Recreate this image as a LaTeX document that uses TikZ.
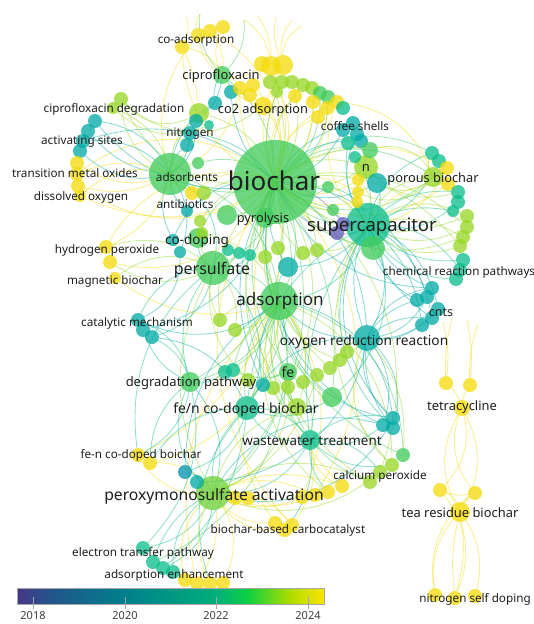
\documentclass[tikz,border=0pt]{standalone}
\usepackage{fontspec}
\setmainfont{Noto Sans}
\pgfdeclarelayer{paper}
\pgfdeclarelayer{links}
\pgfsetlayers{paper,links,main}
\definecolor{c18}{RGB}{100,90,185}
\definecolor{c19}{RGB}{0,145,175}
\definecolor{c20}{RGB}{0,170,165}
\definecolor{c21}{RGB}{10,190,140}
\definecolor{c22}{RGB}{65,203,90}
\definecolor{c23}{RGB}{150,215,35}
\definecolor{c24}{RGB}{245,220,10}
\definecolor{cb0}{RGB}{70,55,135}
\definecolor{cb1}{RGB}{35,85,140}
\definecolor{cb2}{RGB}{0,128,140}
\definecolor{cb3}{RGB}{0,175,122}
\definecolor{cb4}{RGB}{15,208,65}
\definecolor{cb5}{RGB}{175,220,0}
\definecolor{cb6}{RGB}{250,228,0}
\newcommand{\kwsize}[1]{\fontsize{#1}{#1}\selectfont}
\tikzset{
  kw/.style={circle,inner sep=0pt,outer sep=0pt,draw=none,fill opacity=0.76},
  k18/.style={kw,fill=c18,minimum size=#1}, k18/.default=14,
  k19/.style={kw,fill=c19,minimum size=#1}, k19/.default=14,
  k20/.style={kw,fill=c20,minimum size=#1}, k20/.default=14,
  k21/.style={kw,fill=c21,minimum size=#1}, k21/.default=14,
  k22/.style={kw,fill=c22,minimum size=#1}, k22/.default=14,
  k23/.style={kw,fill=c23,minimum size=#1}, k23/.default=14,
  k24/.style={kw,fill=c24,minimum size=#1}, k24/.default=14,
  lbl/.style={inner sep=0pt,text=black!88,font=\kwsize{11.7}},
  link/.style={draw=#1,line width=0.85pt,draw opacity=0.45},
}
\begin{document}
\begin{tikzpicture}[x=1pt,y=1pt,yscale=-1,xscale=1]
\begin{pgfonlayer}{paper}
\fill[white] (0,0) rectangle (534,624);
\end{pgfonlayer}
\useasboundingbox (0,0) rectangle (534,624);

% Main keywords
\node[k22=84] (biochar) at (275,182) {};
\node[k21=44] (supercap) at (368,225) {};
\node[k22=38] (adsorp) at (279,301) {};
\node[k22=34] (persulf) at (213,268) {};
\node[kw,fill=c22!45!c23,minimum size=34] (pms) at (213,493) {};
\node[k22=42] (adsorb) at (170,174) {};
\node[k21=24] (fencb) at (247,408) {};
\node[k20=26] (orr) at (367,338) {};
\node[k21=20] (wwt) at (310,440) {};
\node[k24=20] (teares) at (460,512) {};
\node[k24=16] (tetra) at (462,408) {};
\node[k23=20] (porous) at (433,177) {};
\node[k23=24] (nkw) at (366,167) {};
\node[k22=20] (pyro) at (265,218) {};
\node[k22=18] (cipro) at (222,75) {};
\node[k22=20] (degpath) at (190,382) {};
\node[k22=18] (fe) at (288,372) {};
\node[k24=18] (co2ads) at (263,106) {};
\node[k20] (nitro) at (190,133) {};
\node[k20] (coffee) at (353,123) {};
\node[k22=24] (scgreen) at (373,248) {};

% co-adsorption
\node[k24] (coads1) at (182,47) {};
\node[k24] (coads2) at (198,35) {};
\node[k24] (coads3) at (210,31) {};
\node[k24] (coads4) at (223,27) {};
% around ciprofloxacin
\node[k20] (cipt1) at (231,92) {};
\node[k20] (cipt2) at (215,103) {};
\node[k23=20] (cipy) at (199,113) {};
\node[k21=10] (cipt3) at (209,125) {};
\node[k20] (cipt4) at (196,121) {};
\node[k20] (cipt5) at (187,145) {};
\node[k22=12] (cipg) at (198,163) {};
% ciprofloxacin degradation
\node[k23] (cipdeg1) at (121,99) {};
\node[k23=12] (cipdeg2) at (113,108) {};
% activating sites
\node[k20] (act1) at (95,121) {};
\node[k20] (act2) at (88,131) {};
\node[k20] (act3) at (83,141) {};
\node[k20] (act4) at (80,151) {};
% transition metal oxides, dissolved oxygen
\node[k24] (tmo1) at (77,163) {};
\node[k24] (tmo2) at (77,174) {};
\node[k24] (tmo3) at (78,186) {};
\node[k24=12] (tmo4) at (80,196) {};
% antibiotics
\node[k24] (ant1) at (192,193) {};
\node[k23] (ant2) at (204,193) {};
\node[k20=12] (ant3) at (187,211) {};
% top yellow group
\node[k24=16] (topy1) at (262,64) {};
\node[k24=20] (topy2) at (271,66) {};
\node[k24=20] (topy3) at (283,65) {};
% arc over co2 adsorption
\node[k23] (arc1) at (270,82) {};
\node[k23] (arc2) at (282,82) {};
\node[k23] (arc3) at (292,82) {};
\node[k23] (arc4) at (303,85) {};
\node[k23] (arc5) at (312,88) {};
\node[k22] (arc6) at (320,93) {};
\node[k22] (arc7) at (328,97) {};
\node[k23=12] (arc8) at (277,92) {};
\node[k24] (arcy1) at (240,88) {};
\node[k24] (arcy2) at (253,85) {};
\node[k24] (arcy3) at (250,95) {};
\node[k24] (arcy4) at (295,96) {};
\node[k24] (arcy5) at (313,102) {};
\node[k24] (arcy6) at (337,102) {};
\node[k24] (arcy7) at (327,108) {};
\node[k24] (arcy8) at (318,117) {};
\node[k21] (arcg) at (343,108) {};
% coffee shells
\node[k20] (cof1) at (343,130) {};
\node[k20] (cof2) at (357,134) {};
\node[k20] (cof3) at (361,141) {};
\node[k21] (cof4) at (348,143) {};
\node[k22=16] (cof5) at (370,150) {};
\node[k21=12] (cof6) at (355,157) {};
% n
\node[k24=12] (ny1) at (358,180) {};
\node[k24=12] (ny2) at (358,192) {};
\node[k24=12] (ny3) at (357,202) {};
\node[k20=20] (nt) at (377,183) {};
% near supercapacitor
\node[k22=12] (scg1) at (328,187) {};
\node[k22=12] (scg2) at (333,210) {};
\node[k18] (scp1) at (343,224) {};
\node[k18] (scp2) at (337,233) {};
% right chain
\node[k21] (rc1) at (432,153) {};
\node[k21] (rc2) at (439,161) {};
\node[k24] (rc3) at (447,168) {};
\node[k24] (rc4) at (448,184) {};
\node[k21] (rc5) at (458,192) {};
\node[k21] (rc6) at (458,202) {};
\node[k21=12] (rc7) at (453,211) {};
\node[k23] (rc8) at (467,216) {};
\node[k23] (rc9) at (467,227) {};
\node[k23] (rc10) at (463,237) {};
\node[k23] (rc11) at (460,246) {};
\node[k21] (rc12) at (463,260) {};
\node[k21] (rc13) at (460,270) {};
\node[k21] (rc14) at (456,279) {};
% chemical reaction pathways, cnts
\node[k20] (crp1) at (432,288) {};
\node[k20] (crp2) at (427,297) {};
\node[k20] (crp3) at (417,300) {};
\node[k20] (cnt1) at (438,309) {};
\node[k20] (cnt2) at (432,318) {};
\node[k20] (cnt3) at (422,325) {};
% pyrolysis, co-doping
\node[k22=20] (pyg) at (227,215) {};
\node[k22=20] (codg) at (198,238) {};
\node[k23=12] (codyg1) at (200,221) {};
\node[k23=12] (codyg2) at (202,233) {};
\node[k20=12] (codt1) at (173,240) {};
\node[k20=12] (codt2) at (180,252) {};
\node[k21=12] (mid1) at (228,250) {};
\node[k21=12] (mid2) at (239,253) {};
\node[k21=12] (mid3) at (250,255) {};
\node[k23] (midy1) at (265,257) {};
\node[k23] (midy2) at (278,248) {};
\node[k23] (midy3) at (303,253) {};
\node[k23] (midy4) at (317,250) {};
\node[k20=20] (midt) at (288,267) {};
% hydrogen peroxide, magnetic biochar
\node[k24] (hp1) at (106,247) {};
\node[k24] (hp2) at (110,262) {};
\node[k24=12] (hp3) at (115,278) {};
% catalytic mechanism
\node[k20] (cat1) at (138,320) {};
\node[k20] (cat2) at (143,330) {};
\node[k20] (cat3) at (152,337) {};
\node[k23] (cyg1) at (220,320) {};
\node[k23] (cyg2) at (235,330) {};
% chain to fe
\node[k23] (fec1) at (347,352) {};
\node[k23] (fec2) at (340,360) {};
\node[k23] (fec3) at (330,368) {};
\node[k23] (fec4) at (317,375) {};
\node[k23] (fec5) at (303,382) {};
\node[k23] (fec6) at (288,387) {};
\node[k23] (fec7) at (273,388) {};
\node[k20] (fec8) at (263,385) {};
\node[k23] (fec9) at (248,380) {};
\node[k21] (fec10) at (225,372) {};
\node[k21] (fec11) at (233,370) {};
\node[k22=20] (feg) at (332,397) {};
\node[k23=18] (feyg) at (297,407) {};
% wastewater treatment group
\node[k20] (wwt1) at (393,418) {};
\node[k20] (wwt2) at (383,425) {};
\node[k20] (wwt3) at (393,428) {};
% calcium peroxide
\node[k23] (cap1) at (370,482) {};
\node[k23] (cap2) at (380,472) {};
\node[k23] (cap3) at (392,465) {};
\node[k22] (cap4) at (403,455) {};
% around peroxymonosulfate activation
\node[k24] (pmsy1) at (235,498) {};
\node[k24] (pmsy2) at (248,498) {};
\node[k24] (pmsy3) at (302,497) {};
\node[k24] (pmsy4) at (315,495) {};
\node[k24] (pmsy5) at (328,492) {};
\node[k24] (pmsy6) at (342,486) {};
\node[k24] (carb1) at (275,523) {};
\node[k24] (carb2) at (292,525) {};
\node[k24] (carb3) at (285,530) {};
\node[k24] (fnb1) at (138,455) {};
\node[k24] (fnb2) at (150,463) {};
\node[k19] (pmst1) at (185,472) {};
\node[k20] (pmst2) at (197,482) {};
% electron transfer pathway, adsorption enhancement
\node[k21] (etp1) at (143,548) {};
\node[k21] (etp2) at (153,562) {};
\node[k21] (etp3) at (163,568) {};
\node[k21] (etp4) at (173,572) {};
\node[k24] (ae1) at (185,580) {};
\node[k24] (ae2) at (197,583) {};
\node[k24] (ae3) at (210,583) {};
\node[k24] (ae4) at (223,583) {};
% tetracycline, tea residue biochar
\node[k24] (tcs1) at (446,383) {};
\node[k24] (tcs2) at (470,385) {};
\node[k24] (trs1) at (440,490) {};
\node[k24] (trs2) at (475,493) {};
\node[k24] (nsd1) at (435,595) {};
\node[k24] (nsd2) at (455,598) {};
\node[k24] (nsd3) at (475,596) {};

% loose ends
\coordinate (up1) at (186,17);
\coordinate (up2) at (200,14);
\coordinate (up3) at (244,20);
\coordinate (up4) at (258,16);
\coordinate (up5) at (276,17);
\coordinate (up6) at (292,20);
\coordinate (up7) at (302,26);
\coordinate (tup1) at (443,322);
\coordinate (tup2) at (452,318);
\coordinate (tup3) at (467,320);
\coordinate (tup4) at (478,324);

\begin{pgfonlayer}{links}
% links of biochar
\draw[link=c22] (biochar.center)
  edge[bend right=22] (adsorb) edge[bend left=25] (cipro) edge[bend left=22] (pyro)
  edge[bend right=30] (persulf) edge[bend left=20] (adsorp) edge[bend right=28] (adsorp)
  edge[bend left=25] (supercap) edge[bend right=22] (supercap) edge[bend left=38] (porous)
  edge[bend right=38] (porous) edge[bend left=22] (scgreen) edge[bend right=38] (degpath)
  edge[bend right=25] (fencb) edge[bend left=30] (fe) edge[bend left=35] (wwt)
  edge[bend right=32] (pyg) edge[bend left=32] (codg) edge[bend right=20] (feg)
  edge[bend left=40] (cap4) edge[bend right=35] (pms) edge[bend left=28] (arc6)
  edge[bend left=32] (arc7) edge[bend right=28] (cof5) edge[bend left=28] (cipg)
  edge[bend right=38] (rc1) edge[bend left=40] (scg1) edge[bend left=22] (scg2);
\draw[link=c24] (biochar.center)
  edge[bend left=30] (co2ads) edge[bend right=32] (coads1) edge[bend left=38] (coads3)
  edge[bend left=20] (topy2) edge[bend right=25] (topy3) edge[bend left=32] (topy1)
  edge[bend right=22] (arcy1) edge[bend left=28] (arcy2) edge[bend right=28] (arcy4)
  edge[bend left=25] (arcy5) edge[bend right=30] (arcy6) edge[bend left=35] (arcy7)
  edge[bend right=32] (arcy8) edge[bend left=40] (tmo2) edge[bend right=35] (tmo3)
  edge[bend right=28] (tmo4) edge[bend left=32] (ant1) edge[bend left=40] (hp1)
  edge[bend right=40] (hp2) edge[bend left=30] (ny1) edge[bend right=22] (ny2)
  edge[bend left=25] (ny3) edge[bend right=32] (rc3) edge[bend left=38] (rc4)
  edge[bend right=40] (pmsy4) edge[bend left=40] (carb2) edge[bend right=38] (fnb1)
  edge[bend left=32] (pmsy6);
\draw[link=c20] (biochar.center)
  edge[bend right=32] (act1) edge[bend left=30] (act3) edge[bend left=22] (nitro)
  edge[bend right=22] (cipt1) edge[bend left=25] (cof1) edge[bend right=28] (cof3)
  edge[bend left=28] (nt) edge[bend left=32] (crp1) edge[bend right=38] (cnt2)
  edge[bend left=25] (midt) edge[bend right=35] (cat2) edge[bend left=28] (fec8)
  edge[bend right=28] (orr) edge[bend left=38] (codt1) edge[bend left=40] (wwt2)
  edge[bend right=22] (coffee);
\draw[link=c23] (biochar.center)
  edge[bend left=22] (arc1) edge[bend right=22] (arc2) edge[bend left=25] (arc3)
  edge[bend right=25] (arc4) edge[bend left=28] (arc5) edge[bend right=20] (arc8)
  edge[bend right=38] (cipdeg1) edge[bend left=28] (cipy) edge[bend left=22] (ant2)
  edge[bend left=32] (rc8) edge[bend right=28] (rc9) edge[bend left=38] (rc10)
  edge[bend right=32] (rc11) edge[bend left=22] (midy1) edge[bend right=22] (midy2)
  edge[bend left=28] (midy3) edge[bend right=25] (midy4) edge[bend left=32] (fec3)
  edge[bend right=30] (fec6) edge[bend left=28] (cyg1) edge[bend right=40] (cap2)
  edge[bend left=35] (feyg) edge[bend right=28] (nkw) edge[bend left=22] (nkw)
  edge[bend left=28] (codyg1);
\draw[link=c18] (biochar.center) edge[bend right=22] (scp1) edge[bend left=25] (scp2);

% links of supercapacitor
\draw[link=c21] (supercap.center)
  edge[bend right=28] (rc1) edge[bend left=22] (rc2) edge[bend right=25] (rc5)
  edge[bend left=28] (rc6) edge[bend right=20] (rc7) edge[bend left=25] (rc12)
  edge[bend right=28] (rc13) edge[bend left=30] (rc14) edge[bend right=22] (cof4)
  edge[bend left=22] (cof6) edge[bend left=32] (scg1) edge[bend right=28] (scg2)
  edge[bend left=32] (scgreen) edge[bend left=22] (wwt) edge[bend right=32] (adsorp)
  edge[bend left=28] (fencb) edge[bend right=38] (feg);
\draw[link=c20] (supercap.center)
  edge[bend left=22] (crp1) edge[bend right=22] (crp2) edge[bend left=28] (crp3)
  edge[bend right=28] (cnt1) edge[bend left=20] (cnt2) edge[bend right=20] (cnt3)
  edge[bend left=28] (nt) edge[bend right=25] (midt) edge[bend left=38] (wwt1)
  edge[bend left=40] (wwt3) edge[bend right=28] (orr) edge[bend left=22] (orr)
  edge[bend right=32] (cof2);
\draw[link=c23] (supercap.center)
  edge[bend right=32] (rc8) edge[bend left=28] (rc9) edge[bend right=22] (rc10)
  edge[bend left=32] (rc11) edge[bend right=30] (nkw) edge[bend right=32] (porous)
  edge[bend left=28] (fec1) edge[bend right=32] (midy4) edge[bend left=38] (cap3);
\draw[link=c24] (supercap.center)
  edge[bend left=28] (rc3) edge[bend right=28] (rc4) edge[bend left=32] (ny1)
  edge[bend right=22] (ny3) edge[bend right=35] (arcy6);
\draw[link=c18] (supercap.center) edge[bend left=22] (scp1) edge[bend right=22] (scp2);

% links of adsorption
\draw[link=c22] (adsorp.center)
  edge[bend left=22] (fe) edge[bend right=28] (degpath) edge[bend left=25] (fencb)
  edge[bend right=22] (wwt) edge[bend left=28] (wwt) edge[bend right=32] (pms)
  edge[bend left=22] (persulf) edge[bend left=28] (feg) edge[bend right=38] (cap4)
  edge[bend left=32] (adsorb) edge[bend right=25] (fec10) edge[bend left=20] (fec11)
  edge[bend right=40] (etp2);
\draw[link=c23] (adsorp.center)
  edge[bend left=25] (fec2) edge[bend right=28] (fec5) edge[bend left=22] (fec7)
  edge[bend right=22] (fec9) edge[bend left=30] (feyg) edge[bend right=30] (feyg)
  edge[bend left=32] (cap1) edge[bend right=35] (cap3) edge[bend left=28] (cyg1)
  edge[bend right=25] (cyg2) edge[bend left=28] (codyg2) edge[bend right=22] (midy1)
  edge[bend left=38] (pmsy5);
\draw[link=c20] (adsorp.center)
  edge[bend left=38] (wwt1) edge[bend right=40] (wwt3) edge[bend right=32] (cat1)
  edge[bend left=25] (orr) edge[bend left=22] (fec8) edge[bend right=22] (midt)
  edge[bend left=28] (pmst1);
\draw[link=c24] (adsorp.center)
  edge[bend right=30] (pmsy3) edge[bend left=35] (carb1) edge[bend right=38] (fnb2)
  edge[bend left=30] (ae2) edge[bend right=28] (hp3);

% links of peroxymonosulfate activation
\draw[link=c21] (pms.center)
  edge[bend right=28] (etp1) edge[bend left=22] (etp2) edge[bend right=32] (etp3)
  edge[bend left=28] (etp4) edge[bend left=32] (wwt) edge[bend right=25] (fencb)
  edge[bend left=28] (degpath) edge[bend right=38] (degpath);
\draw[link=c24] (pms.center)
  edge[bend left=32] (ae1) edge[bend right=22] (ae2) edge[bend left=28] (ae3)
  edge[bend right=32] (ae4) edge[bend left=28] (carb1) edge[bend right=28] (carb2)
  edge[bend left=32] (carb3) edge[bend left=22] (pmsy1) edge[bend right=22] (pmsy2)
  edge[bend left=25] (pmsy3) edge[bend right=25] (pmsy4) edge[bend left=22] (pmsy5)
  edge[bend right=22] (pmsy6) edge[bend right=32] (fnb1) edge[bend left=28] (fnb2);
\draw[link=c20] (pms.center)
  edge[bend left=22] (pmst1) edge[bend right=22] (pmst2) edge[bend right=38] (wwt2)
  edge[bend left=40] (wwt1);
\draw[link=c23] (pms.center)
  edge[bend right=30] (cap1) edge[bend left=32] (cap2) edge[bend right=28] (feyg)
  edge[bend left=25] (fec4) edge[bend right=28] (persulf) edge[bend left=38] (fe);

% links of persulfate
\draw[link=c23] (persulf.center)
  edge[bend left=28] (hp1) edge[bend right=30] (hp2) edge[bend left=32] (hp3)
  edge[bend right=22] (codyg1) edge[bend left=22] (cyg1) edge[bend right=28] (cyg2)
  edge[bend left=28] (fec9);
\draw[link=c21] (persulf.center)
  edge[bend right=25] (codg) edge[bend left=32] (cat1) edge[bend right=32] (cat3)
  edge[bend left=28] (degpath) edge[bend right=22] (mid1) edge[bend left=22] (mid2)
  edge[bend left=25] (mid3) edge[bend left=32] (adsorb) edge[bend right=38] (fencb)
  edge[bend left=30] (fnb1);

% links of adsorbents
\draw[link=c20] (adsorb.center)
  edge[bend left=28] (act1) edge[bend right=22] (act2) edge[bend left=25] (act3)
  edge[bend right=28] (act4) edge[bend left=22] (nitro) edge[bend right=25] (cipt2)
  edge[bend left=28] (cipt4) edge[bend right=20] (cipt5) edge[bend left=25] (codt1)
  edge[bend right=28] (codt2) edge[bend left=22] (ant3);
\draw[link=c24] (adsorb.center)
  edge[bend right=28] (tmo1) edge[bend left=22] (tmo2) edge[bend right=22] (tmo3)
  edge[bend left=28] (tmo4) edge[bend left=32] (coads1) edge[bend right=28] (coads2)
  edge[bend left=22] (ant1) edge[bend right=25] (hp1) edge[bend left=28] (arcy1);
\draw[link=c23] (adsorb.center)
  edge[bend right=30] (cipdeg1) edge[bend left=28] (cipdeg2) edge[bend right=22] (cipy)
  edge[bend left=22] (ant2);
\draw[link=c23] (cipdeg1) edge[bend left=38] (cipy) edge[bend left=40] (co2ads)
  (cipdeg2) edge[bend left=32] (cipt3);

% links of ciprofloxacin
\draw[link=c24] (cipro.center)
  edge[bend left=25] (coads1) edge[bend right=22] (coads2) edge[bend left=22] (coads3)
  edge[bend right=25] (coads4) edge[bend left=28] (topy1) edge[bend right=22] (arcy1)
  edge[bend left=22] (co2ads);
\draw[link=c20] (cipro.center) edge[bend right=15] (cipt1) edge[bend left=22] (cipt2) edge[bend right=22] (cipt4);
\draw[link=c24] (coads1) edge[bend left=20] (up1) (coads2) edge[bend right=20] (up2)
  (topy2) edge[bend left=22] (up3) edge[bend left=15] (up4)
  (topy3) edge[bend right=15] (up5) edge[bend right=22] (up6) edge[bend right=28] (up7);
\draw[link=c22] (cipro) edge[bend right=22] (up2) edge[bend left=22] (up3);

% links of oxygen reduction reaction
\draw[link=c20] (orr.center)
  edge[bend left=25] (cnt1) edge[bend right=22] (cnt2) edge[bend left=20] (cnt3)
  edge[bend right=28] (crp1) edge[bend left=28] (crp2) edge[bend right=20] (crp3)
  edge[bend left=32] (wwt1) edge[bend right=28] (wwt2) edge[bend left=22] (wwt3)
  edge[bend right=32] (wwt3) edge[bend right=40] (pmst2) edge[bend left=32] (fencb);
\draw[link=c23] (orr.center)
  edge[bend right=15] (fec1) edge[bend left=22] (fec3) edge[bend right=22] (cap4)
  edge[bend left=38] (cap3);

% links of degradation pathway, catalytic mechanism
\draw[link=c21] (degpath.center)
  edge[bend left=28] (cat1) edge[bend right=22] (cat2) edge[bend left=22] (cat3)
  edge[bend right=28] (fnb1) edge[bend left=25] (fnb2) edge[bend left=22] (fec10)
  edge[bend right=28] (etp1);
\draw[link=c20] (cat1) edge[bend left=32] (codt2) (cat3) edge[bend right=28] (fencb);

% links of fe, wastewater treatment, fe/n co-doped biochar
\draw[link=c22] (fe.center)
  edge[bend left=22] (fencb) edge[bend right=28] (wwt) edge[bend left=25] (feyg)
  edge[bend right=22] (fec11) edge[bend left=32] (cap1);
\draw[link=c21] (wwt.center)
  edge[bend right=25] (wwt1) edge[bend left=28] (wwt2) edge[bend right=28] (cap2)
  edge[bend left=25] (cap3) edge[bend right=32] (fencb) edge[bend left=22] (pmsy5)
  edge[bend right=22] (carb3);
\draw[link=c24] (wwt.center) edge[bend right=25] (carb2) edge[bend left=32] (pmsy6);
\draw[link=c21] (fencb.center)
  edge[bend right=28] (pmst1) edge[bend left=28] (fnb2) edge[bend right=22] (etp3)
  edge[bend left=30] (ae3) edge[bend right=25] (wwt) edge[bend left=28] (feg);

% links of porous biochar, n
\draw[link=c23] (porous.center)
  edge[bend right=28] (rc1) edge[bend left=28] (rc2) edge[bend right=32] (nt)
  edge[bend left=40] (cof5) edge[bend right=38] (ny2);
\draw[link=c24] (porous.center) edge[bend left=22] (rc3) edge[bend right=22] (rc4) edge[bend left=32] (arcy6);
\draw[link=c23] (nkw.center)
  edge[bend left=22] (ny1) edge[bend right=22] (cof5) edge[bend left=25] (nt)
  edge[bend right=28] (cof6) edge[bend left=32] (rc5);

% links of tetracycline, tea residue biochar
\draw[link=c24] (teares.center)
  edge[bend left=25] (trs1) edge[bend right=25] (trs2) edge[bend left=30] (tetra)
  edge[bend right=30] (tetra) edge[bend left=25] (nsd1) edge[bend right=25] (nsd3)
  edge[bend right=12] (nsd2) edge[bend left=10] (nsd2);
\draw[link=c24] (tetra.center)
  edge[bend right=30] (trs1) edge[bend left=30] (trs2) edge[bend left=15] (tcs1)
  edge[bend right=15] (tcs2);
\draw[link=c24] (trs1) edge[bend right=30] (nsd2) edge[bend left=15] (trs2)
  (trs2) edge[bend left=30] (nsd1);
\draw[link=c24] (tcs1) edge[bend left=10] (tup1) edge[bend right=8] (tup2)
  (tcs2) edge[bend left=8] (tup3) edge[bend right=10] (tup4);
\end{pgfonlayer}

% Text Nodes
\node[lbl,font=\kwsize{26}] (lbiochar) at (274,181) {biochar};
\node[lbl,font=\kwsize{18.5}] (lsupercap) at (372,227) {supercapacitor};
\node[lbl,font=\kwsize{17}] (ladsorp) at (280,301) {adsorption};
\node[lbl,font=\kwsize{16}] (lpersulf) at (212,270) {persulfate};
\node[lbl,font=\kwsize{15.7}] (lpms) at (214,496) {peroxymonosulfate activation};
\node[lbl,font=\kwsize{13.7}] (lorr) at (364,342) {oxygen reduction reaction};
\node[lbl,font=\kwsize{14}] (lfencb) at (246,410) {fe/n co-doped biochar};
\node[lbl,font=\kwsize{13.4}] (lwwt) at (312,441) {wastewater treatment};
\node[lbl,font=\kwsize{13}] (ldegpath) at (191,383) {degradation pathway};
\node[lbl,font=\kwsize{12.9}] (lteares) at (460,513) {tea residue biochar};
\node[lbl,font=\kwsize{12.8}] (lporous) at (433,179) {porous biochar};
\node[lbl,font=\kwsize{12.8}] (lco2) at (263,110) {co2 adsorption};
\node[lbl,font=\kwsize{12.9}] (lcipro) at (221,76) {ciprofloxacin};
\node[lbl,font=\kwsize{12.9}] (ltetra) at (462,407) {tetracycline};
\node[lbl,font=\kwsize{12.8}] (lpyro) at (263,219) {pyrolysis};
\node[lbl,font=\kwsize{13.5}] (lcodop) at (197,241) {co-doping};
\node[lbl,font=\kwsize{14}] (lfe) at (288,372) {fe};
\node[lbl,font=\kwsize{13}] (ln) at (366,168) {n};
\node[lbl,font=\kwsize{12.5}] (lcnts) at (441,312) {cnts};
\node[lbl] (ladsorb) at (187,177) {adsorbents};
\node[lbl] (lnitro) at (190,134) {nitrogen};
\node[lbl] (lantib) at (185,204) {antibiotics};
\node[lbl] (lcoads) at (196,40) {co-adsorption};
\node[lbl] (lcipdeg) at (114,109) {ciprofloxacin degradation};
\node[lbl] (lact) at (82,142) {activating sites};
\node[lbl] (ltmo) at (75,173) {transition metal oxides};
\node[lbl] (ldisox) at (81,197) {dissolved oxygen};
\node[lbl] (lcoffee) at (355,126) {coffee shells};
\node[lbl] (lcrp) at (459,272) {chemical reaction pathways};
\node[lbl] (lhp) at (107,250) {hydrogen peroxide};
\node[lbl] (lmagbc) at (115,281) {magnetic biochar};
\node[lbl] (lcatm) at (137,323) {catalytic mechanism};
\node[lbl] (lfnb) at (141,455) {fe-n co-doped boichar};
\node[lbl] (lcaper) at (380,476) {calcium peroxide};
\node[lbl] (lcarb) at (288,530) {biochar-based carbocatalyst};
\node[lbl] (letp) at (143,553) {electron transfer pathway};
\node[lbl] (laenh) at (174,575) {adsorption enhancement};
\node[lbl] (lnsd) at (475,599) {nitrogen self doping};

% Colour bar
\shade[left color=cb0,right color=cb1] (17,588) rectangle (50,604);
\shade[left color=cb1,right color=cb2] (50,588) rectangle (125,604);
\shade[left color=cb2,right color=cb3] (125,588) rectangle (216,604);
\shade[left color=cb3,right color=cb4] (216,588) rectangle (248,604);
\shade[left color=cb4,right color=cb5] (248,588) rectangle (290,604);
\shade[left color=cb5,right color=cb6] (290,588) rectangle (324,604);
\draw[gray!70,line width=0.8pt] (17,588) rectangle (324,604);
\foreach \xt/\yr in {33/2018,125/2020,216/2022,308/2024}{
  \draw[gray!70,line width=0.8pt] (\xt,597) -- (\xt,609);
  \node[lbl,font=\kwsize{11},text=black!75] (yr\yr) at (\xt,616) {\yr};
}
\end{tikzpicture}
\end{document}
